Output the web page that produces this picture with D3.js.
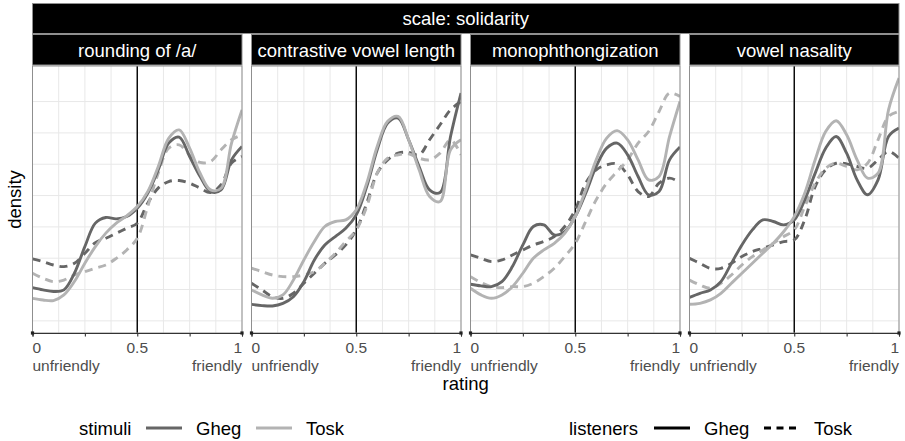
<!DOCTYPE html>
<html>
<head>
<meta charset="utf-8">
<script src="https://cdn.jsdelivr.net/npm/d3@7"></script>
<style>
  html, body { margin: 0; padding: 0; background: #fff; }
  svg { display: block; font-family: "Liberation Sans", Arial, Helvetica, sans-serif; }
</style>
</head>
<body>
<svg id="chart" width="905" height="441"></svg>
<script>
// ---------------- DATA ----------------
const outerStrip = "scale: solidarity";
const facets = ["rounding of /a/", "contrastive vowel length", "monophthongization", "vowel nasality"];
const ratingGrid = [0, 0.05, 0.1, 0.15, 0.2, 0.25, 0.3, 0.35, 0.4, 0.45, 0.5, 0.55, 0.6, 0.65, 0.7, 0.75, 0.8, 0.85, 0.9, 0.95, 1];
const xTickValues = [0, 0.25, 0.5, 0.75, 1];
const xTickLabels = { 0: ["0", "unfriendly"], 0.5: ["0.5"], 1: ["1", "friendly"] };
const stimuliLevels = ["Gheg", "Tosk"];
const listenerLevels = ["Gheg", "Tosk"];

// density values: <facet>_<stimuli><listeners>  (G = Gheg, T = Tosk)
const rounding_GG = [0.265, 0.247, 0.234, 0.247, 0.38, 0.593, 0.78, 0.825, 0.814, 0.833, 0.899, 1.019, 1.205, 1.418, 1.466, 1.312, 1.152, 1.032, 1.045, 1.285, 1.392];
const rounding_TG = [0.18, 0.167, 0.162, 0.207, 0.314, 0.46, 0.593, 0.7, 0.78, 0.838, 0.912, 1.031, 1.23, 1.457, 1.524, 1.378, 1.178, 1.045, 1.058, 1.418, 1.684];
const rounding_GT = [0.494, 0.473, 0.446, 0.433, 0.459, 0.539, 0.624, 0.659, 0.699, 0.739, 0.779, 0.939, 1.059, 1.112, 1.12, 1.099, 1.059, 1.024, 1.086, 1.259, 1.312];
const rounding_TT = [0.38, 0.34, 0.313, 0.326, 0.366, 0.393, 0.42, 0.446, 0.499, 0.566, 0.659, 0.912, 1.178, 1.378, 1.405, 1.325, 1.264, 1.272, 1.365, 1.445, 1.485];

const length_GG = [0.132, 0.122, 0.119, 0.14, 0.193, 0.313, 0.486, 0.606, 0.673, 0.739, 0.846, 1.072, 1.365, 1.578, 1.618, 1.445, 1.232, 1.046, 1.024, 1.471, 1.818];
const length_TG = [0.247, 0.207, 0.18, 0.207, 0.326, 0.486, 0.633, 0.753, 0.793, 0.806, 0.886, 1.099, 1.392, 1.592, 1.631, 1.445, 1.205, 0.992, 0.952, 1.365, 1.445];
const length_GT = [0.3, 0.247, 0.193, 0.18, 0.22, 0.3, 0.38, 0.459, 0.526, 0.606, 0.726, 0.939, 1.179, 1.285, 1.338, 1.344, 1.325, 1.445, 1.565, 1.685, 1.751];
const length_TT = [0.42, 0.393, 0.366, 0.353, 0.353, 0.366, 0.393, 0.459, 0.539, 0.633, 0.726, 0.912, 1.178, 1.298, 1.325, 1.333, 1.298, 1.285, 1.338, 1.445, 1.325];

const monoph_GG = [0.292, 0.279, 0.273, 0.313, 0.433, 0.606, 0.753, 0.766, 0.686, 0.712, 0.832, 1.019, 1.232, 1.378, 1.418, 1.325, 1.152, 1.006, 1.032, 1.285, 1.387];
const monoph_TG = [0.26, 0.207, 0.18, 0.207, 0.273, 0.38, 0.499, 0.566, 0.619, 0.699, 0.832, 1.045, 1.285, 1.458, 1.518, 1.445, 1.285, 1.125, 1.152, 1.471, 1.751];
const monoph_GT = [0.526, 0.499, 0.473, 0.486, 0.526, 0.566, 0.606, 0.633, 0.673, 0.753, 0.886, 1.099, 1.205, 1.245, 1.253, 1.165, 1.032, 0.992, 1.099, 1.139, 1.104];
const monoph_TT = [0.353, 0.306, 0.273, 0.265, 0.273, 0.273, 0.3, 0.353, 0.42, 0.513, 0.619, 0.793, 0.966, 1.098, 1.192, 1.285, 1.418, 1.511, 1.671, 1.817, 1.791];

const nasal_GG = [0.188, 0.22, 0.247, 0.313, 0.459, 0.606, 0.726, 0.806, 0.793, 0.766, 0.806, 0.966, 1.179, 1.378, 1.471, 1.338, 1.125, 1.006, 1.125, 1.471, 1.538];
const nasal_TG = [0.132, 0.14, 0.167, 0.22, 0.3, 0.38, 0.46, 0.54, 0.62, 0.713, 0.832, 1.019, 1.285, 1.511, 1.597, 1.485, 1.285, 1.139, 1.178, 1.684, 1.937];
const nasal_GT = [0.499, 0.459, 0.419, 0.419, 0.459, 0.513, 0.553, 0.579, 0.606, 0.633, 0.646, 0.806, 1.072, 1.205, 1.258, 1.253, 1.232, 1.218, 1.285, 1.352, 1.298];
const nasal_TT = [0.326, 0.286, 0.26, 0.3, 0.366, 0.446, 0.513, 0.566, 0.62, 0.673, 0.726, 0.912, 1.098, 1.218, 1.258, 1.232, 1.205, 1.258, 1.445, 1.631, 1.671];

// assemble series (facet, stimuli, listeners, values)
const seriesTable = [
  [0, "Gheg", "Tosk", rounding_GT], [0, "Tosk", "Tosk", rounding_TT], [0, "Gheg", "Gheg", rounding_GG], [0, "Tosk", "Gheg", rounding_TG],
  [1, "Gheg", "Tosk", length_GT],   [1, "Tosk", "Tosk", length_TT],   [1, "Gheg", "Gheg", length_GG],   [1, "Tosk", "Gheg", length_TG],
  [2, "Gheg", "Tosk", monoph_GT],   [2, "Tosk", "Tosk", monoph_TT],   [2, "Gheg", "Gheg", monoph_GG],   [2, "Tosk", "Gheg", monoph_TG],
  [3, "Gheg", "Tosk", nasal_GT],    [3, "Tosk", "Tosk", nasal_TT],    [3, "Gheg", "Gheg", nasal_GG],    [3, "Tosk", "Gheg", nasal_TG]
];

// ---------------- LAYOUT ----------------
const svg = d3.select("#chart");
const panelLeft0 = 32.5, panelW = 209.5, panelGap = 9.5;
const panelTop = 66, panelBottom = 333;
const stripBg = "#000", borderCol = "#8f8f8f";
const colStimuli = d3.scaleOrdinal().domain(stimuliLevels).range(["#666666", "#b3b3b3"]);
const dashListeners = d3.scaleOrdinal().domain(listenerLevels).range([null, "8,6"]);
const lineW = 2.9;

const ymax = d3.max(seriesTable, s => d3.max(s[3]));
const ypad = (panelBottom - panelTop) * 0.05 / 1.1;
const y = d3.scaleLinear().domain([0, ymax]).range([panelBottom - ypad, panelTop + ypad]);
const yGrid = d3.range(0, ymax + 1e-9, 0.25);
const xGrid = d3.range(0, 1.0001, 0.125);

const totalRight = panelLeft0 + 4 * panelW + 3 * panelGap;

// outer strip
svg.append("rect").attr("x", panelLeft0).attr("y", 3.5).attr("width", totalRight - panelLeft0).attr("height", 30)
  .attr("fill", stripBg).attr("stroke", borderCol).attr("stroke-width", 1);
svg.append("text").attr("x", (panelLeft0 + totalRight) / 2).attr("y", 25).attr("text-anchor", "middle")
  .attr("fill", "#fff").attr("font-size", 18.5).text(outerStrip);

facets.forEach((name, i) => {
  const left = panelLeft0 + i * (panelW + panelGap);
  const x = d3.scaleLinear().domain([0, 1]).range([left, left + panelW]);
  const g = svg.append("g");

  // facet strip
  g.append("rect").attr("x", left).attr("y", 34.5).attr("width", panelW).attr("height", 30.5)
    .attr("fill", stripBg).attr("stroke", borderCol).attr("stroke-width", 1);
  g.append("text").attr("x", left + panelW / 2).attr("y", 56.5).attr("text-anchor", "middle")
    .attr("fill", "#fff").attr("font-size", 18.5).text(name);

  // grid
  g.selectAll(".gy").data(yGrid).join("line")
    .attr("x1", left).attr("x2", left + panelW)
    .attr("y1", d => y(d)).attr("y2", d => y(d))
    .attr("stroke", "#e8e8e8").attr("stroke-width", 1);
  g.selectAll(".gx").data(xGrid).join("line")
    .attr("x1", d => x(d)).attr("x2", d => x(d))
    .attr("y1", panelTop).attr("y2", panelBottom)
    .attr("stroke", "#e8e8e8").attr("stroke-width", 1);

  // vline at 0.5
  g.append("line").attr("x1", x(0.5)).attr("x2", x(0.5)).attr("y1", panelTop).attr("y2", panelBottom)
    .attr("stroke", "#000").attr("stroke-width", 1.4);

  // density lines
  const lineGen = d3.line().x((d, k) => x(ratingGrid[k])).y(d => y(d)).curve(d3.curveCatmullRom.alpha(0.5));
  const clipId = "clip" + i;
  svg.append("clipPath").attr("id", clipId).append("rect")
    .attr("x", left).attr("y", panelTop).attr("width", panelW).attr("height", panelBottom - panelTop);
  seriesTable.filter(s => s[0] === i).forEach(s => {
    g.append("path").attr("d", lineGen(s[3]))
      .attr("clip-path", `url(#${clipId})`)
      .attr("fill", "none").attr("stroke", colStimuli(s[1])).attr("stroke-width", lineW)
      .attr("stroke-dasharray", dashListeners(s[2]));
  });

  // panel border
  g.append("rect").attr("x", left).attr("y", panelTop).attr("width", panelW).attr("height", panelBottom - panelTop)
    .attr("fill", "none").attr("stroke", borderCol).attr("stroke-width", 1);

  // x axis
  const axis = d3.axisBottom(x).tickValues(xTickValues).tickSize(3.5).tickFormat("");
  const ax = g.append("g").attr("transform", `translate(0,${panelBottom})`).call(axis);
  ax.select(".domain").attr("stroke", "#333").attr("stroke-width", 1.1);
  ax.selectAll(".tick line").attr("stroke", "#333").attr("stroke-width", 1.1);
  [0, 1].forEach(v => {
    g.append("rect").attr("x", x(v) - 1.6).attr("y", panelBottom - 1.6).attr("width", 3.2).attr("height", 3.2).attr("fill", "#222");
  });
  // tick labels (one text element per line)
  Object.keys(xTickLabels).forEach(key => {
    const v = +key;
    const anchor = v === 0 ? "start" : (v === 1 ? "end" : "middle");
    xTickLabels[key].forEach((ln, j) => {
      g.append("text").attr("x", x(v)).attr("y", 353 + j * 17.5).attr("text-anchor", anchor)
        .attr("fill", "#4d4d4d").attr("font-size", 15.5).text(ln);
    });
  });
});

// axis titles
svg.append("text").attr("x", (panelLeft0 + totalRight) / 2).attr("y", 390).attr("text-anchor", "middle")
  .attr("fill", "#000").attr("font-size", 18.5).text("rating");
svg.append("text").attr("transform", `translate(21,${(panelTop + panelBottom) / 2}) rotate(-90)`)
  .attr("text-anchor", "middle").attr("fill", "#000").attr("font-size", 18.5).text("density");

// legends
const legY = 428, legBase = 434.5;
const leg = svg.append("g").attr("font-size", 18.5).attr("fill", "#000");
leg.append("text").attr("x", 79).attr("y", legBase).text("stimuli");
stimuliLevels.forEach((lv, k) => {
  const x0 = 146 + k * 110;
  leg.append("line").attr("x1", x0).attr("x2", x0 + 36).attr("y1", legY).attr("y2", legY)
    .attr("stroke", colStimuli(lv)).attr("stroke-width", 3);
  leg.append("text").attr("x", x0 + 50).attr("y", legBase).text(lv);
});
leg.append("text").attr("x", 569).attr("y", legBase).text("listeners");
listenerLevels.forEach((lv, k) => {
  const x0 = 654 + k * 110;
  leg.append("line").attr("x1", x0).attr("x2", x0 + 36).attr("y1", legY).attr("y2", legY)
    .attr("stroke", "#000").attr("stroke-width", 3)
    .attr("stroke-dasharray", k === 0 ? null : "7,5.5");
  leg.append("text").attr("x", x0 + 50).attr("y", legBase).text(lv);
});
</script>
</body>
</html>
